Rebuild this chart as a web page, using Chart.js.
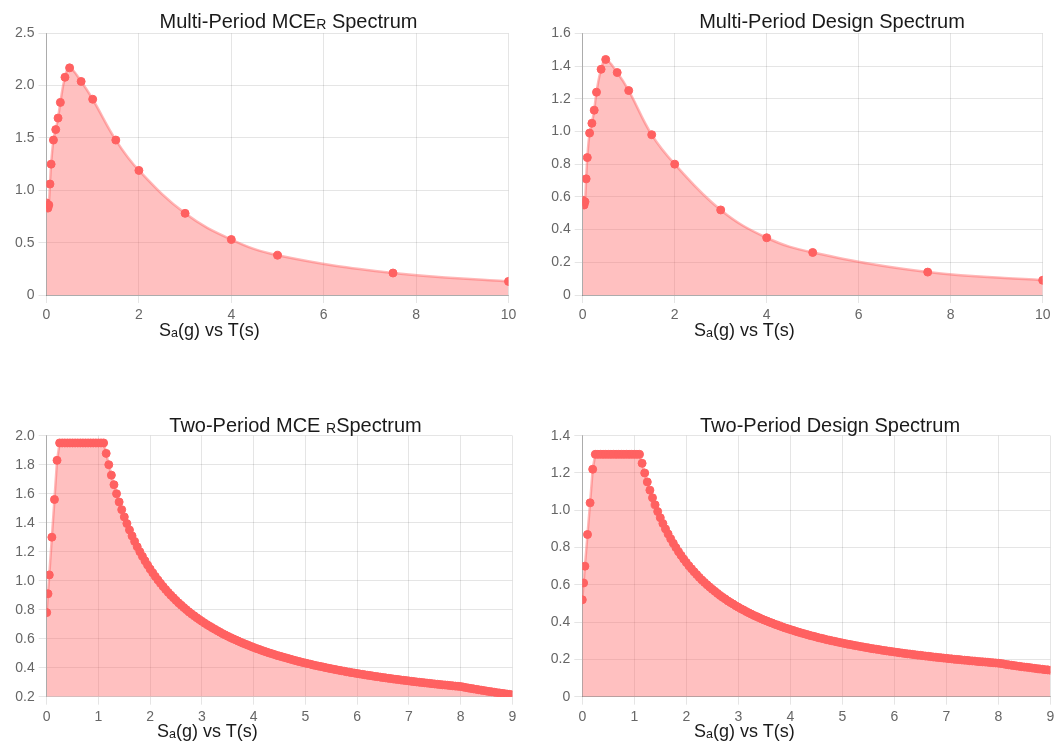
<!DOCTYPE html>
<html>
<head>
<meta charset="utf-8">
<script src="https://cdn.jsdelivr.net/npm/chart.js@4.4.1/dist/chart.umd.min.js"></script>
<style>
  html, body { margin: 0; padding: 0; background: #fff; }
  body { width: 1059px; height: 746px; position: relative; overflow: hidden;
         font-family: "Liberation Sans", Arial, Helvetica, sans-serif; }
  canvas { position: absolute; }
  .title { position: absolute; font-size: 20px; line-height: 20px; color: #1a1a1a;
           white-space: nowrap; transform: translateX(-50%); }
  .xlab { position: absolute; font-size: 18px; line-height: 18px; color: #1a1a1a; white-space: nowrap; }
  sub { font-size: 0.7em; vertical-align: -0.1em; line-height: 0; }
</style>
</head>
<body>
<canvas id="c1" width="529" height="373" style="left:0;top:0"></canvas>
<canvas id="c2" width="529" height="373" style="left:530px;top:0"></canvas>
<canvas id="c3" width="529" height="373" style="left:0;top:373px"></canvas>
<canvas id="c4" width="529" height="373" style="left:530px;top:373px"></canvas>

<div class="title" style="left:288.5px;top:11px">Multi-Period MCE<sub>R</sub> Spectrum</div>
<div class="title" style="left:832px;top:11px">Multi-Period Design Spectrum</div>
<div class="title" style="left:295.5px;top:415px">Two-Period MCE <sub>R</sub>Spectrum</div>
<div class="title" style="left:830px;top:415px">Two-Period Design Spectrum</div>

<div class="xlab" style="left:159px;top:321px">S<sub>a</sub>(g) vs T(s)</div>
<div class="xlab" style="left:694px;top:321px">S<sub>a</sub>(g) vs T(s)</div>
<div class="xlab" style="left:157px;top:722px">S<sub>a</sub>(g) vs T(s)</div>
<div class="xlab" style="left:694px;top:722px">S<sub>a</sub>(g) vs T(s)</div>

<script>
// Multi-period spectra: periods T (s) and spectral accelerations Sa (g)
const multiPeriods = [0, 0.01, 0.02, 0.03, 0.05, 0.075, 0.1, 0.15, 0.2, 0.25, 0.3,
                      0.4, 0.5, 0.75, 1, 1.5, 2, 3, 4, 5, 7.5, 10];
const multiMCE = [0.88, 0.86, 0.84, 0.83, 0.86, 1.06, 1.25, 1.48, 1.58, 1.69, 1.84,
                  2.08, 2.17, 2.04, 1.87, 1.48, 1.19, 0.78, 0.53, 0.38, 0.21, 0.13];
const multiDesign = [0.58, 0.57, 0.56, 0.55, 0.57, 0.71, 0.84, 0.99, 1.05, 1.13, 1.24,
                     1.38, 1.44, 1.36, 1.25, 0.98, 0.80, 0.52, 0.35, 0.26, 0.14, 0.09];

// Two-period spectra
const twoPeriods = [
  0, 0.025, 0.05, 0.1, 0.15, 0.2,
  0.25, 0.3, 0.35, 0.4, 0.45, 0.5, 0.55, 0.6, 0.65, 0.7,
  0.75, 0.8, 0.85, 0.9, 0.95, 1, 1.05, 1.1,
  1.15, 1.2, 1.25, 1.3, 1.35, 1.4, 1.45, 1.5, 1.55, 1.6,
  1.65, 1.7, 1.75, 1.8, 1.85, 1.9, 1.95, 2, 2.05, 2.1,
  2.15, 2.2, 2.25, 2.3, 2.35, 2.4, 2.45, 2.5, 2.55, 2.6,
  2.65, 2.7, 2.75, 2.8, 2.85, 2.9, 2.95, 3, 3.05, 3.1,
  3.15, 3.2, 3.25, 3.3, 3.35, 3.4, 3.45, 3.5, 3.55, 3.6,
  3.65, 3.7, 3.75, 3.8, 3.85, 3.9, 3.95, 4, 4.05, 4.1,
  4.15, 4.2, 4.25, 4.3, 4.35, 4.4, 4.45, 4.5, 4.55, 4.6,
  4.65, 4.7, 4.75, 4.8, 4.85, 4.9, 4.95, 5, 5.05, 5.1,
  5.15, 5.2, 5.25, 5.3, 5.35, 5.4, 5.45, 5.5, 5.55, 5.6,
  5.65, 5.7, 5.75, 5.8, 5.85, 5.9, 5.95, 6, 6.05, 6.1,
  6.15, 6.2, 6.25, 6.3, 6.35, 6.4, 6.45, 6.5, 6.55, 6.6,
  6.65, 6.7, 6.75, 6.8, 6.85, 6.9, 6.95, 7, 7.05, 7.1,
  7.15, 7.2, 7.25, 7.3, 7.35, 7.4, 7.45, 7.5, 7.55, 7.6,
  7.65, 7.7, 7.75, 7.8, 7.85, 7.9, 7.95, 8, 8.05, 8.1,
  8.15, 8.2, 8.25, 8.3, 8.35, 8.4, 8.45, 8.5, 8.55, 8.6,
  8.65, 8.7, 8.75, 8.8, 8.85, 8.9, 8.95, 9
];
const twoMCE = [
  0.78, 0.91, 1.04, 1.30, 1.56, 1.83,
  1.95, 1.95, 1.95, 1.95, 1.95, 1.95, 1.95, 1.95, 1.95, 1.95,
  1.95, 1.95, 1.95, 1.95, 1.95, 1.95, 1.95, 1.95,
  1.878, 1.800, 1.728, 1.662, 1.600, 1.543, 1.490, 1.440, 1.394, 1.350,
  1.309, 1.271, 1.234, 1.200, 1.168, 1.137, 1.108, 1.080, 1.054, 1.029,
  1.005, 0.982, 0.960, 0.939, 0.919, 0.900, 0.882, 0.864, 0.847, 0.831,
  0.815, 0.800, 0.785, 0.771, 0.758, 0.745, 0.732, 0.720, 0.708, 0.697,
  0.686, 0.675, 0.665, 0.655, 0.645, 0.635, 0.626, 0.617, 0.608, 0.600,
  0.592, 0.584, 0.576, 0.568, 0.561, 0.554, 0.547, 0.540, 0.533, 0.527,
  0.520, 0.514, 0.508, 0.502, 0.497, 0.491, 0.485, 0.480, 0.475, 0.470,
  0.465, 0.460, 0.455, 0.450, 0.445, 0.441, 0.436, 0.432, 0.428, 0.424,
  0.419, 0.415, 0.411, 0.408, 0.404, 0.400, 0.396, 0.393, 0.389, 0.386,
  0.382, 0.379, 0.376, 0.372, 0.369, 0.366, 0.363, 0.360, 0.357, 0.354,
  0.351, 0.348, 0.346, 0.343, 0.340, 0.338, 0.335, 0.332, 0.330, 0.327,
  0.325, 0.322, 0.320, 0.318, 0.315, 0.313, 0.311, 0.309, 0.306, 0.304,
  0.302, 0.300, 0.298, 0.296, 0.294, 0.292, 0.290, 0.288, 0.286, 0.284,
  0.282, 0.281, 0.279, 0.277, 0.275, 0.273, 0.272, 0.270, 0.267, 0.263,
  0.260, 0.257, 0.254, 0.251, 0.248, 0.245, 0.242, 0.239, 0.236, 0.234,
  0.231, 0.228, 0.226, 0.223, 0.221, 0.218, 0.216, 0.213
];
const twoDesign = [
  0.52, 0.61, 0.70, 0.87, 1.04, 1.22,
  1.30, 1.30, 1.30, 1.30, 1.30, 1.30, 1.30, 1.30, 1.30, 1.30,
  1.30, 1.30, 1.30, 1.30, 1.30, 1.30, 1.30, 1.30,
  1.252, 1.200, 1.152, 1.108, 1.067, 1.029, 0.993, 0.960, 0.929, 0.900,
  0.873, 0.847, 0.823, 0.800, 0.778, 0.758, 0.738, 0.720, 0.702, 0.686,
  0.670, 0.655, 0.640, 0.626, 0.613, 0.600, 0.588, 0.576, 0.565, 0.554,
  0.543, 0.533, 0.524, 0.514, 0.505, 0.497, 0.488, 0.480, 0.472, 0.465,
  0.457, 0.450, 0.443, 0.436, 0.430, 0.424, 0.417, 0.411, 0.406, 0.400,
  0.395, 0.389, 0.384, 0.379, 0.374, 0.369, 0.365, 0.360, 0.356, 0.351,
  0.347, 0.343, 0.339, 0.335, 0.331, 0.327, 0.324, 0.320, 0.316, 0.313,
  0.310, 0.306, 0.303, 0.300, 0.297, 0.294, 0.291, 0.288, 0.285, 0.282,
  0.280, 0.277, 0.274, 0.272, 0.269, 0.267, 0.264, 0.262, 0.259, 0.257,
  0.255, 0.253, 0.250, 0.248, 0.246, 0.244, 0.242, 0.240, 0.238, 0.236,
  0.234, 0.232, 0.230, 0.229, 0.227, 0.225, 0.223, 0.222, 0.220, 0.218,
  0.217, 0.215, 0.213, 0.212, 0.210, 0.209, 0.207, 0.206, 0.204, 0.203,
  0.201, 0.200, 0.199, 0.197, 0.196, 0.195, 0.193, 0.192, 0.191, 0.189,
  0.188, 0.187, 0.186, 0.185, 0.183, 0.182, 0.181, 0.180, 0.178, 0.176,
  0.173, 0.171, 0.169, 0.167, 0.165, 0.163, 0.161, 0.159, 0.158, 0.156,
  0.154, 0.152, 0.150, 0.149, 0.147, 0.145, 0.144, 0.142
];

const RED = 'rgb(255, 97, 97)';
const FILL = 'rgba(255, 97, 97, 0.4)';
const LINE = 'rgba(255, 97, 97, 0.45)';
const GRID = 'rgba(0, 0, 0, 0.1)';
const AXIS = 'rgba(0, 0, 0, 0.25)';
const TICK_FONT = { family: '"Liberation Sans", Arial, Helvetica, sans-serif', size: 14 };

function spectrum(id, periods, values, o) {
  const points = periods.map((t, i) => ({ x: t, y: values[i] }));
  return new Chart(document.getElementById(id), {
    type: 'line',
    data: {
      datasets: [{
        data: points,
        fill: 'origin',
        backgroundColor: FILL,
        borderColor: LINE,
        borderWidth: 2.5,
        tension: o.tension,
        pointRadius: 4,
        pointBorderWidth: 1,
        pointBackgroundColor: RED,
        pointBorderColor: RED
      }]
    },
    options: {
      responsive: false,
      animation: false,
      devicePixelRatio: 1,
      layout: { padding: o.padding },
      plugins: { legend: { display: false }, tooltip: { enabled: false }, title: { display: false } },
      scales: {
        x: {
          type: 'linear',
          min: o.xMin, max: o.xMax,
          ticks: { stepSize: o.xStep, color: '#666', font: TICK_FONT, padding: 4, maxRotation: 0 },
          grid: { color: GRID, tickLength: 8 },
          border: { color: o.xBorder || AXIS },
          afterFit: s => { s.height = 30; }
        },
        y: {
          min: o.yMin, max: o.yMax,
          ticks: { stepSize: o.yStep, color: '#666', font: TICK_FONT, padding: 4 },
          grid: { color: GRID, tickLength: 8 },
          border: { color: AXIS },
          afterFit: s => { s.width = o.yWidth; }
        }
      }
    }
  });
}

spectrum('c1', multiPeriods, multiMCE, {
  tension: 0.4, xMin: 0, xMax: 10, xStep: 2, yMin: 0, yMax: 2.5, yStep: 0.5,
  yWidth: 46.5, padding: { left: 0, top: 33.3, right: 20.5, bottom: 48 }
});
spectrum('c2', multiPeriods, multiDesign, {
  tension: 0.4, xMin: 0, xMax: 10, xStep: 2, yMin: 0, yMax: 1.6, yStep: 0.2,
  yWidth: 52.7, padding: { left: 0, top: 33.3, right: 16.3, bottom: 48 }
});
spectrum('c3', twoPeriods, twoMCE, {
  tension: 0, xMin: 0, xMax: 9, xStep: 1, yMin: 0.2, yMax: 2.0, yStep: 0.2, xBorder: GRID,
  yWidth: 46.7, padding: { left: 0, top: 62.7, right: 16.7, bottom: 19.3 }
});
spectrum('c4', twoPeriods, twoDesign, {
  tension: 0, xMin: 0, xMax: 9, xStep: 1, yMin: 0, yMax: 1.4, yStep: 0.2,
  yWidth: 52.3, padding: { left: 0, top: 62.7, right: 8.7, bottom: 19.3 }
});
</script>
</body>
</html>
